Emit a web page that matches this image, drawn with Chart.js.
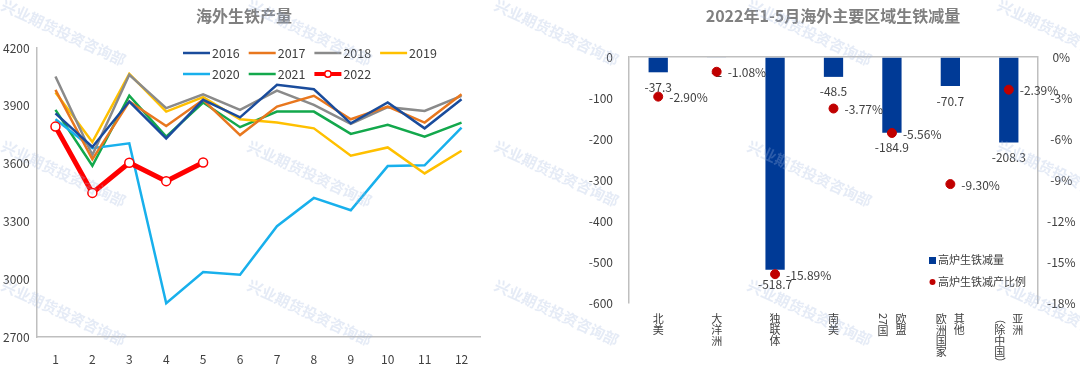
<!DOCTYPE html>
<html>
<head>
<meta charset="utf-8">
<script src="https://cdn.jsdelivr.net/npm/chart.js@4.4.0/dist/chart.umd.min.js"></script>
<style>
  body { margin: 0; background: #fff; width: 1080px; height: 373px; overflow: hidden; position: relative;
         font-family: "Noto Sans CJK SC", "Noto Sans", sans-serif; }
  .box { position: absolute; top: 0; }
  .title { position: absolute; top: 3px; font-weight: bold; color: #7f7f7f; font-size: 16px; white-space: nowrap;
           transform: translateX(-50%); }
  .wm { position: absolute; font-size: 15px; font-weight: bold; color: rgba(160, 182, 222, 0.28); white-space: nowrap;
        transform: translate(-50%, -50%) rotate(25deg); pointer-events: none; }
</style>
</head>
<body>
<div class="box" style="left:0;width:490px;height:373px"><canvas id="left" width="490" height="373"></canvas></div>
<div class="box" style="left:580px;width:500px;height:373px"><canvas id="right" width="500" height="373"></canvas></div>
<div class="title" style="left:244px">海外生铁产量</div>
<div class="title" style="left:833px">2022年1-5月海外主要区域生铁减量</div>
<div id="marks"></div>
<script>
// left chart: monthly overseas pig iron output
const months = ["1", "2", "3", "4", "5", "6", "7", "8", "9", "10", "11", "12"];
const output2016 = [3861, 3686, 3922, 3731, 3931, 3840, 4009, 3986, 3809, 3917, 3783, 3934];
const output2017 = [3983, 3622, 3922, 3795, 3931, 3748, 3896, 3952, 3830, 3896, 3813, 3960];
const output2018 = [4052, 3644, 4061, 3888, 3960, 3879, 3979, 3905, 3806, 3893, 3873, 3952];
const output2019 = [3969, 3712, 4066, 3870, 3945, 3830, 3813, 3783, 3641, 3684, 3549, 3667];
const output2020 = [3830, 3680, 3705, 2875, 3037, 3023, 3275, 3422, 3358, 3587, 3591, 3787];
const output2021 = [3879, 3589, 3952, 3740, 3917, 3789, 3870, 3870, 3754, 3801, 3740, 3813];
const output2022 = [3792, 3448, 3604, 3509, 3606];
const yearNames = ["2016", "2017", "2018", "2019", "2020", "2021", "2022"];

// right chart: Jan-May 2022 reduction by region
const regions = ["北美", "大洋洲", "独联体", "南美", "欧盟27国", "其他欧洲国家", "亚洲（除中国）"];
const regionCols = [["北美"], ["大洋洲"], ["独联体"], ["南美"], ["欧盟", "27国"], ["其他", "欧洲国家"], ["亚洲", "（除中国）"]];
const ironCut = [-37.3, -2, -518.7, -48.5, -184.9, -70.7, -208.3];
const ironCutPct = [-2.90, -1.08, -15.89, -3.77, -5.56, -9.30, -2.39];

const FONT = '"Noto Sans CJK SC", "Noto Sans", sans-serif';
const TXT = "#404040";
const AXIS = "#bfbfbf";

// watermark
const markText = "兴业期货投资咨询部";
const markX = [64, 310, 557, 810, 1060];
const markY = [32, 173, 312];
let html = "";
markY.forEach(y => markX.forEach(x => {
  html += `<div class="wm" style="left:${x}px;top:${y}px">${markText}</div>`;
}));
document.getElementById("marks").innerHTML = html;

const lineColors = ["#1a4c9c", "#e8771e", "#8a8a8a", "#ffc000", "#18b0ec", "#13a84c", "#ff0000"];
const lineSeries = [output2016, output2017, output2018, output2019, output2020, output2021, output2022];

const lineLegend = {
  id: "lineLegend",
  afterDraw(chart) {
    const ctx = chart.ctx;
    ctx.save();
    ctx.font = "12.5px " + FONT;
    ctx.textBaseline = "middle";
    chart.data.datasets.forEach((ds, i) => {
      const x = 183 + (i % 4) * 65.7;
      const y = 53 + Math.floor(i / 4) * 21;
      ctx.strokeStyle = ds.borderColor;
      ctx.lineWidth = i === 6 ? 4 : 2.5;
      ctx.beginPath();
      ctx.moveTo(x, y);
      ctx.lineTo(x + 27, y);
      ctx.stroke();
      if (i === 6) {
        ctx.fillStyle = "#fff";
        ctx.lineWidth = 1.5;
        ctx.beginPath();
        ctx.arc(x + 13.5, y, 3.2, 0, Math.PI * 2);
        ctx.fill();
        ctx.stroke();
      }
      ctx.fillStyle = TXT;
      ctx.fillText(ds.label, x + 29, y + 0.5);
    });
    ctx.restore();
  }
};

new Chart(document.getElementById("left"), {
  type: "line",
  data: {
    labels: months,
    datasets: lineSeries.map((s, i) => ({
      label: yearNames[i],
      data: s,
      borderColor: lineColors[i],
      backgroundColor: lineColors[i],
      borderWidth: i === 6 ? 5 : 2.5,
      pointRadius: i === 6 ? 4.5 : 0,
      pointBackgroundColor: "#fff",
      pointBorderColor: "#ff0000",
      pointBorderWidth: 1.5,
      tension: 0,
      order: i === 6 ? 0 : 1
    }))
  },
  options: {
    responsive: false,
    animation: false,
    layout: { padding: { top: 48, right: 10, left: 3, bottom: 0 } },
    plugins: { legend: { display: false }, tooltip: { enabled: false } },
    scales: {
      x: {
        offset: true,
        grid: { display: false },
        border: { color: AXIS, width: 1.5 },
        ticks: { color: TXT, font: { family: FONT, size: 12 }, padding: 7, maxRotation: 0 },
        afterFit(s) { s.height = 36; }
      },
      y: {
        min: 2700, max: 4200,
        grid: { display: false },
        border: { color: AXIS, width: 1.5 },
        ticks: { stepSize: 300, color: TXT, font: { family: FONT, size: 12 }, crossAlign: "far",
                 callback: v => String(v) },
        afterFit(s) { s.width = 34; }
      }
    }
  },
  plugins: [lineLegend]
});

// right chart helpers
function drawColumn(ctx, str, x, y0) {
  const tokens = str.match(/[0-9A-Za-z]+|./g);
  let y = y0;
  tokens.forEach(t => {
    const rotate = /^[0-9A-Za-z]+$/.test(t) || t === "（" || t === "）";
    if (rotate) {
      const w = ctx.measureText(t).width;
      const h = /[0-9A-Za-z]/.test(t) ? w : 11;
      ctx.save();
      ctx.translate(x, y + h / 2);
      ctx.rotate(Math.PI / 2);
      ctx.fillText(t, 0, 0);
      ctx.restore();
      y += h;
    } else {
      ctx.fillText(t, x, y + 5.5);
      y += 11;
    }
  });
}

const barExtras = {
  id: "barExtras",
  afterDatasetDraw(chart, args) {
    const ctx = chart.ctx;
    ctx.save();
    ctx.fillStyle = TXT;
    ctx.font = "12px " + FONT;
    if (args.index === 0) {
      ctx.textAlign = "center";
      ctx.textBaseline = "middle";
      args.meta.data.forEach((el, i) => {
        ctx.fillText(String(ironCut[i]), el.x, el.y + 15);
      });
    } else {
      ctx.textAlign = "left";
      ctx.textBaseline = "middle";
      args.meta.data.forEach((el, i) => {
        ctx.fillText(ironCutPct[i].toFixed(2) + "%", el.x + 11, el.y + 1);
      });
    }
    ctx.restore();
  },
  afterDraw(chart) {
    const ctx = chart.ctx;
    const xs = chart.scales.x;
    ctx.save();
    ctx.fillStyle = TXT;
    ctx.font = "11px " + FONT;
    ctx.textAlign = "center";
    ctx.textBaseline = "middle";
    regionCols.forEach((cols, i) => {
      const cx = xs.getPixelForValue(i);
      cols.forEach((c, j) => {
        const off = cols.length === 1 ? 0 : (j === 0 ? 9 : -9);
        drawColumn(ctx, c, cx + off, 313);
      });
    });
    // legend
    const ds = chart.data.datasets;
    ctx.textAlign = "left";
    ctx.font = "11px " + FONT;
    ctx.fillStyle = ds[0].backgroundColor;
    ctx.fillRect(349, 257, 7, 7);
    ctx.fillStyle = TXT;
    ctx.fillText(ds[0].label, 358, 260);
    ctx.fillStyle = ds[1].backgroundColor;
    ctx.beginPath();
    ctx.arc(352.5, 282, 3, 0, Math.PI * 2);
    ctx.fill();
    ctx.fillStyle = TXT;
    ctx.fillText(ds[1].label, 358, 282);
    ctx.restore();
  }
};

new Chart(document.getElementById("right"), {
  type: "bar",
  data: {
    labels: regions,
    datasets: [
      {
        label: "高炉生铁减量",
        data: ironCut,
        backgroundColor: "#003a96",
        categoryPercentage: 1,
        barPercentage: 0.33,
        yAxisID: "y",
        order: 1
      },
      {
        type: "line",
        label: "高炉生铁减产比例",
        data: ironCutPct,
        showLine: false,
        pointRadius: 4.5,
        pointBackgroundColor: "#c00000",
        pointBorderColor: "#c00000",
        backgroundColor: "#c00000",
        yAxisID: "y1",
        order: 0
      }
    ]
  },
  options: {
    responsive: false,
    animation: false,
    layout: { padding: { top: 57, right: 0, left: 0, bottom: 0 } },
    plugins: { legend: { display: false }, tooltip: { enabled: false } },
    scales: {
      x: {
        offset: true,
        grid: { display: false },
        border: { display: false },
        ticks: { display: false },
        afterFit(s) { s.height = 70; }
      },
      y: {
        position: "left",
        min: -600, max: 0,
        grid: { color: c => c.tick.value === 0 ? AXIS : "transparent", lineWidth: 1.5, drawTicks: false },
        border: { color: AXIS, width: 1.5 },
        ticks: { stepSize: 100, color: TXT, font: { family: FONT, size: 12 }, padding: 16 },
        afterFit(s) { s.width = 49; }
      },
      y1: {
        position: "right",
        min: -18, max: 0,
        grid: { display: false, drawTicks: false },
        border: { color: AXIS, width: 1.5 },
        ticks: { stepSize: 3, color: TXT, font: { family: FONT, size: 12 }, padding: 9, crossAlign: "center",
                 callback: v => v + "%" },
        afterFit(s) { s.width = 42; }
      }
    }
  },
  plugins: [barExtras]
});
</script>
</body>
</html>
